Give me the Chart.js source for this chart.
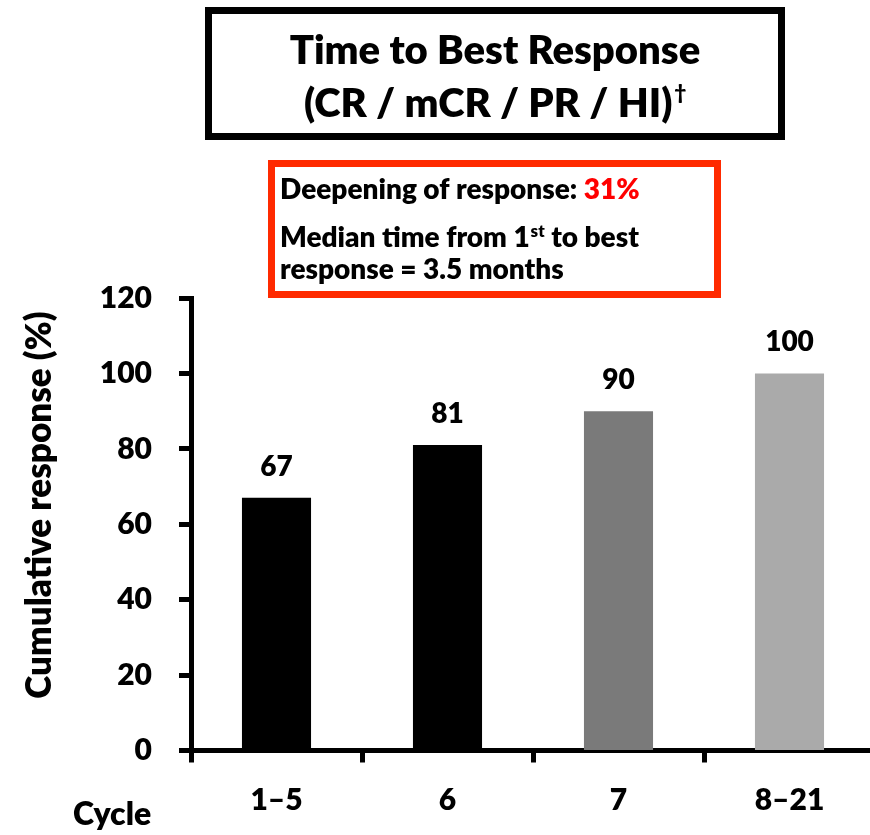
<!DOCTYPE html>
<html>
<head>
<meta charset="utf-8">
<script src="https://cdn.jsdelivr.net/npm/chart.js@4"></script>
<style>
  html, body { margin: 0; padding: 0; background: #ffffff; overflow: hidden; }
  #wrap { position: relative; width: 880px; height: 835px; }
</style>
</head>
<body>
<div id="wrap"><canvas id="chart" width="880" height="835"></canvas></div>
<script>
// Cumulative best response by treatment cycle
const cycles = ['1–5', '6', '7', '8–21'];
const cumulativeResponse = [67, 81, 90, 100];
const barColors = ['#000000', '#000000', '#7a7a7a', '#aaaaaa'];
const yMin = 0;
const yMax = 120;
const yStep = 20;

const titleLine1 = 'Time to Best Response';
const titleLine2 = '(CR / mCR / PR / HI)';
const titleMark = '†';
const noteLead = 'Deepening of response: ';
const noteValue = '31%';
const noteLine2a = 'Median time from 1';
const noteLine2sup = 'st';
const noteLine2b = ' to best';
const noteLine3 = 'response = 3.5 months';
const yAxisTitle = 'Cumulative response (%)';
const xAxisTitle = 'Cycle';

const FONT = 'Lato, "Open Sans", "DejaVu Sans", sans-serif';
const W = '800';

// Value labels above each bar
const valueLabels = {
  id: 'valueLabels',
  afterDatasetsDraw(chart) {
    const ctx = chart.ctx;
    const meta = chart.getDatasetMeta(0);
    const data = chart.data.datasets[0].data;
    ctx.save();
    ctx.font = W + ' 28px ' + FONT;
    ctx.fillStyle = '#000';
    ctx.textAlign = 'center';
    ctx.textBaseline = 'alphabetic';
    meta.data.forEach((bar, i) => {
      ctx.fillText(String(data[i]), bar.x, bar.y - 22);
    });
    ctx.restore();
  }
};

// Title box, note box and axis captions
const annotations = {
  id: 'annotations',
  afterDraw(chart) {
    const ctx = chart.ctx;
    ctx.save();

    // title box
    ctx.lineWidth = 7;
    ctx.strokeStyle = '#000';
    ctx.strokeRect(208.5, 10.5, 573, 126);
    ctx.fillStyle = '#000';
    ctx.textBaseline = 'alphabetic';
    ctx.textAlign = 'center';
    ctx.font = W + ' 40px ' + FONT;
    ctx.fillText(titleLine1, 495, 63.5);
    ctx.textAlign = 'left';
    const w2 = ctx.measureText(titleLine2).width;
    ctx.font = W + ' 20px ' + FONT;
    const wm = ctx.measureText(titleMark).width;
    const x2 = 495 - (w2 + wm + 2) / 2;
    ctx.font = W + ' 40px ' + FONT;
    ctx.fillText(titleLine2, x2, 116.5);
    ctx.font = W + ' 20px ' + FONT;
    ctx.fillText(titleMark, x2 + w2 + 2, 100);

    // note box
    ctx.strokeStyle = '#ff2a00';
    ctx.strokeRect(271.5, 163.5, 446, 131);
    ctx.font = W + ' 28px ' + FONT;
    ctx.fillStyle = '#000';
    ctx.fillText(noteLead, 280, 199);
    const wl = ctx.measureText(noteLead).width;
    ctx.fillStyle = '#ff0000';
    ctx.fillText(noteValue, 280 + wl, 199);
    ctx.fillStyle = '#000';
    ctx.fillText(noteLine2a, 280, 246.5);
    const wa = ctx.measureText(noteLine2a).width;
    ctx.font = W + ' 17px ' + FONT;
    ctx.fillText(noteLine2sup, 280 + wa + 1, 237);
    const ws = ctx.measureText(noteLine2sup).width;
    ctx.font = W + ' 28px ' + FONT;
    ctx.fillText(noteLine2b, 280 + wa + 1 + ws, 246.5);
    ctx.fillText(noteLine3, 280, 278.5);

    // y-axis caption
    ctx.save();
    ctx.translate(51, 505);
    ctx.rotate(-Math.PI / 2);
    ctx.textAlign = 'center';
    ctx.font = W + ' 35px ' + FONT;
    ctx.fillText(yAxisTitle, 0, 0);
    ctx.restore();

    // x-axis caption
    ctx.textAlign = 'left';
    ctx.font = W + ' 32px ' + FONT;
    ctx.fillText(xAxisTitle, 73, 825);

    ctx.restore();
  }
};

const tickFont = { family: FONT, weight: W, size: 30 };

new Chart(document.getElementById('chart'), {
  type: 'bar',
  data: {
    labels: cycles,
    datasets: [{
      data: cumulativeResponse,
      backgroundColor: barColors,
      borderWidth: 0,
      barPercentage: 0.404,
      categoryPercentage: 1.0
    }]
  },
  options: {
    responsive: false,
    animation: false,
    devicePixelRatio: 1,
    layout: { padding: { top: 298, right: 5, left: 0, bottom: 0 } },
    plugins: {
      legend: { display: false },
      tooltip: { enabled: false },
      title: { display: false }
    },
    scales: {
      x: {
        offset: true,
        grid: {
          display: true,
          drawOnChartArea: false,
          drawTicks: true,
          tickLength: 12,
          tickWidth: 5,
          tickColor: '#000',
          offset: true
        },
        border: { display: true, width: 5, color: '#000' },
        ticks: { font: tickFont, color: '#000', padding: 20, maxRotation: 0 },
        afterFit(scale) { scale.height = 84.5; }
      },
      y: {
        min: yMin,
        max: yMax,
        grid: {
          display: true,
          drawOnChartArea: false,
          drawTicks: true,
          tickLength: 12,
          tickWidth: 5,
          tickColor: '#000'
        },
        border: { display: true, width: 5, color: '#000' },
        ticks: { stepSize: yStep, font: tickFont, color: '#000', padding: 27 },
        afterFit(scale) { scale.width = 191; }
      }
    }
  },
  plugins: [valueLabels, annotations]
});
</script>
</body>
</html>
